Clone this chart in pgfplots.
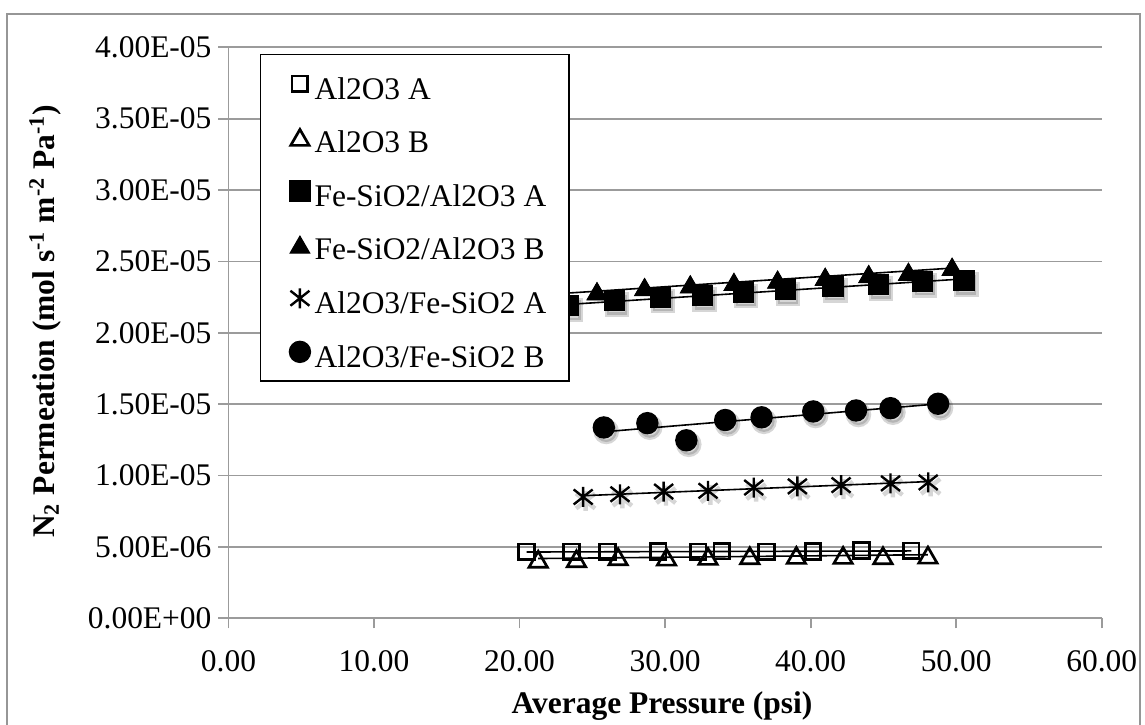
\documentclass[border=0pt]{standalone}
\usepackage{fontspec}
\setmainfont{Liberation Serif}
\usepackage{pgfplots}
\usepackage{pgfplotstable}
\pgfplotsset{compat=1.18}

\definecolor{axgray}{RGB}{155,155,155}
\definecolor{framegray}{RGB}{150,150,150}

% six-armed asterisk: vertical bar plus a flat X
\pgfdeclareplotmark{xasterisk}{%
  \pgfpathmoveto{\pgfqpoint{0pt}{\pgfplotmarksize}}%
  \pgfpathlineto{\pgfqpoint{0pt}{-\pgfplotmarksize}}%
  \pgfpathmoveto{\pgfqpoint{0.95\pgfplotmarksize}{0.75\pgfplotmarksize}}%
  \pgfpathlineto{\pgfqpoint{-0.95\pgfplotmarksize}{-0.75\pgfplotmarksize}}%
  \pgfpathmoveto{\pgfqpoint{-0.95\pgfplotmarksize}{0.75\pgfplotmarksize}}%
  \pgfpathlineto{\pgfqpoint{0.95\pgfplotmarksize}{-0.75\pgfplotmarksize}}%
  \pgfusepathqstroke}

% average pressure (psi) vs N2 permeation in 1e-6 mol s^-1 m^-2 Pa^-1
\pgfplotstableread{
x y
20.48 4.65
23.57 4.65
26.04 4.66
29.52 4.68
32.27 4.66
33.89 4.70
36.96 4.66
40.16 4.68
43.49 4.74
46.92 4.72
}\alA
\pgfplotstableread{
x y
21.28 4.13
23.91 4.17
26.77 4.30
30.10 4.28
32.95 4.33
35.82 4.38
39.02 4.40
42.23 4.40
44.97 4.38
48.06 4.42
}\alB
\pgfplotstableread{
x y
20.30 21.70
23.34 21.89
26.55 22.25
29.68 22.49
32.55 22.61
35.41 22.84
38.27 23.01
41.54 23.25
44.68 23.37
47.67 23.60
50.54 23.65
}\feA
\pgfplotstableread{
x y
22.10 22.65
25.32 22.91
28.59 23.20
31.73 23.39
34.73 23.56
37.73 23.72
41.00 23.92
43.99 24.11
46.72 24.27
49.72 24.62
}\feB
\pgfplotstableread{
x y
24.37 8.50
26.90 8.69
29.90 8.88
32.95 8.93
36.09 9.16
39.09 9.24
42.09 9.33
45.49 9.45
48.08 9.52
}\alfeA
\pgfplotstableread{
x y
25.79 13.37
28.78 13.67
31.46 12.47
34.13 13.89
36.63 14.08
40.18 14.49
43.12 14.56
45.49 14.72
48.76 15.03
}\alfeB

\pgfplotsset{
  trend/.style={black, line width=0.8bp, no marks, forget plot},
  lgimg/.style={legend image code/.code={%
    \draw[##1] plot coordinates {(0bp,0bp)};
    \path (-9bp,-5bp) (5bp,5bp);}},
  % soft drop shadow under the markers
  shadow/.style={forget plot, only marks,
    mark options={draw=black, fill=black, opacity=0.16, line width=2.2bp,
      xshift=1.2bp, yshift=-2bp}},
}

\begin{document}
\begin{tikzpicture}
\path[use as bounding box] (0bp,0bp) rectangle (572.5bp,362.5bp);
\draw[framegray, line width=1bp] (3.35bp,-5bp) -- (3.35bp,355.5bp) -- (570bp,355.5bp) -- (570bp,-5bp);
\begin{axis}[
  scale only axis, width=436.6bp, height=285.5bp,
  at={(114.25bp,53.35bp)}, anchor=south west,
  xmin=0, xmax=60, ymin=0, ymax=40,
  xtick={0,10,...,60},
  xticklabels={0.00,10.00,20.00,30.00,40.00,50.00,60.00},
  ytick={0,5,...,40},
  yticklabels={0.00E+00,5.00E-06,1.00E-05,1.50E-05,2.00E-05,2.50E-05,3.00E-05,3.50E-05,4.00E-05},
  axis x line*=bottom, axis y line*=left,
  axis line style={draw=axgray, line width=0.9bp, -},
  tick style={draw=axgray, line width=0.9bp},
  tick align=outside, major tick length=5bp,
  ymajorgrids, grid style={draw=axgray, line width=0.9bp},
  ticklabel style={font=\fontsize{15.8}{19}\selectfont},
  xticklabel style={yshift=-7.5bp},
  label style={font=\fontsize{15.8}{19}\selectfont\bfseries},
  xlabel={Average Pressure (psi)},
  ylabel={N\textsubscript{2} Permeation (mol s\textsuperscript{-1} m\textsuperscript{-2} Pa\textsuperscript{-1})},
  xlabel style={at={(axis description cs:0.4965,-0.153)}, anchor=center},
  ylabel style={at={(axis description cs:-0.210,0.52)}, anchor=center},
  legend style={at={(axis description cs:0.036,0.988)}, anchor=north west,
    draw=black, line width=0.6bp, fill=white,
    font=\fontsize{15.8}{19}\selectfont,
    inner xsep=10.4bp, inner ysep=5.9bp, row sep=9.5bp, column sep=1bp,
    nodes={inner sep=1bp, text height=15.3bp, text depth=0bp}},
  legend cell align=left,
]
% shadows first
\addplot[shadow, mark=square, mark size=3.9bp, mark options={fill=none}] table {\alA};
\addplot[shadow, mark=triangle, mark size=5.3bp, mark options={fill=none, yshift=-1.3bp}] table {\alB};
\addplot[shadow, mark=square*, mark size=5bp] table {\feA};
\addplot[shadow, mark=triangle*, mark size=5.6bp, mark options={yshift=-1.4bp}] table {\feB};
\addplot[shadow, mark=xasterisk, mark size=5bp] table {\alfeA};
\addplot[shadow, mark=*, mark size=5.3bp] table {\alfeB};

\addplot[only marks, mark=square, mark size=3.9bp,
  mark options={draw=black, fill=none, line width=1.35bp}, lgimg] table {\alA};
\addlegendentry{Al2O3 A}
\addplot[only marks, mark=triangle, mark size=5.3bp,
  mark options={draw=black, fill=none, line width=1.35bp, yshift=-1.3bp}, lgimg] table {\alB};
\addlegendentry{Al2O3 B}
\addplot[only marks, mark=square*, mark size=5bp,
  mark options={draw=black, fill=black, line width=0.6bp}, lgimg] table {\feA};
\addlegendentry{Fe-SiO2/Al2O3 A\hspace{4.5bp}}
\addplot[only marks, mark=triangle*, mark size=5.6bp,
  mark options={draw=black, fill=black, line width=0.6bp, yshift=-1.4bp}, lgimg] table {\feB};
\addlegendentry{Fe-SiO2/Al2O3 B}
\addplot[only marks, mark=xasterisk, mark size=5bp,
  mark options={draw=black, line width=1.2bp}, lgimg] table {\alfeA};
\addlegendentry{Al2O3/Fe-SiO2 A}
\addplot[only marks, mark=*, mark size=5.3bp,
  mark options={draw=black, fill=black, line width=0.6bp}, lgimg] table {\alfeB};
\addlegendentry{Al2O3/Fe-SiO2 B}

% linear trend lines
\addplot[trend] table[x=x, y={create col/linear regression={y=y}}] {\alA};
\addplot[trend] table[x=x, y={create col/linear regression={y=y}}] {\alB};
\addplot[trend] table[x=x, y={create col/linear regression={y=y}}] {\feA};
\addplot[trend] table[x=x, y={create col/linear regression={y=y}}] {\feB};
\addplot[trend] table[x=x, y={create col/linear regression={y=y}}] {\alfeA};
\addplot[trend] table[x=x, y={create col/linear regression={y=y}}] {\alfeB};
\end{axis}
\end{tikzpicture}
\end{document}
